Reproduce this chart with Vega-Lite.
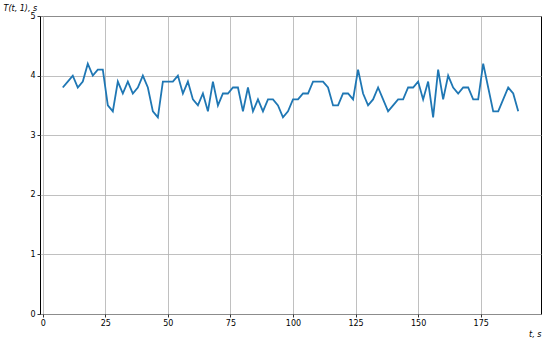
{
  "$schema": "https://vega.github.io/schema/vega-lite/v6.json",
  "width": 501,
  "height": 298,
  "autosize": {"type": "none"},
  "padding": {"left": 40, "top": 16, "right": 9, "bottom": 28},
  "background": "white",
  "config": {"view": {"stroke": "#000", "strokeWidth": 1}, "font": "DejaVu Sans"},
  "data": {"values": [
    {"t": 8, "T": 3.8}, {"t": 10, "T": 3.9}, {"t": 12, "T": 4.0}, {"t": 14, "T": 3.8}, {"t": 16, "T": 3.9},
    {"t": 18, "T": 4.2}, {"t": 20, "T": 4.0}, {"t": 22, "T": 4.1}, {"t": 24, "T": 4.1}, {"t": 26, "T": 3.5},
    {"t": 28, "T": 3.4}, {"t": 30, "T": 3.9}, {"t": 32, "T": 3.7}, {"t": 34, "T": 3.9}, {"t": 36, "T": 3.7},
    {"t": 38, "T": 3.8}, {"t": 40, "T": 4.0}, {"t": 42, "T": 3.8}, {"t": 44, "T": 3.4}, {"t": 46, "T": 3.3},
    {"t": 48, "T": 3.9}, {"t": 50, "T": 3.9}, {"t": 52, "T": 3.9}, {"t": 54, "T": 4.0}, {"t": 56, "T": 3.7},
    {"t": 58, "T": 3.9}, {"t": 60, "T": 3.6}, {"t": 62, "T": 3.5}, {"t": 64, "T": 3.7}, {"t": 66, "T": 3.4},
    {"t": 68, "T": 3.9}, {"t": 70, "T": 3.5}, {"t": 72, "T": 3.7}, {"t": 74, "T": 3.7}, {"t": 76, "T": 3.8},
    {"t": 78, "T": 3.8}, {"t": 80, "T": 3.4}, {"t": 82, "T": 3.8}, {"t": 84, "T": 3.4}, {"t": 86, "T": 3.6},
    {"t": 88, "T": 3.4}, {"t": 90, "T": 3.6}, {"t": 92, "T": 3.6}, {"t": 94, "T": 3.5}, {"t": 96, "T": 3.3},
    {"t": 98, "T": 3.4}, {"t": 100, "T": 3.6}, {"t": 102, "T": 3.6}, {"t": 104, "T": 3.7}, {"t": 106, "T": 3.7},
    {"t": 108, "T": 3.9}, {"t": 110, "T": 3.9}, {"t": 112, "T": 3.9}, {"t": 114, "T": 3.8}, {"t": 116, "T": 3.5},
    {"t": 118, "T": 3.5}, {"t": 120, "T": 3.7}, {"t": 122, "T": 3.7}, {"t": 124, "T": 3.6}, {"t": 126, "T": 4.1},
    {"t": 128, "T": 3.7}, {"t": 130, "T": 3.5}, {"t": 132, "T": 3.6}, {"t": 134, "T": 3.8}, {"t": 136, "T": 3.6},
    {"t": 138, "T": 3.4}, {"t": 140, "T": 3.5}, {"t": 142, "T": 3.6}, {"t": 144, "T": 3.6}, {"t": 146, "T": 3.8},
    {"t": 148, "T": 3.8}, {"t": 150, "T": 3.9}, {"t": 152, "T": 3.6}, {"t": 154, "T": 3.9}, {"t": 156, "T": 3.3},
    {"t": 158, "T": 4.1}, {"t": 160, "T": 3.6}, {"t": 162, "T": 4.0}, {"t": 164, "T": 3.8}, {"t": 166, "T": 3.7},
    {"t": 168, "T": 3.8}, {"t": 170, "T": 3.8}, {"t": 172, "T": 3.6}, {"t": 174, "T": 3.6}, {"t": 176, "T": 4.2},
    {"t": 178, "T": 3.8}, {"t": 180, "T": 3.4}, {"t": 182, "T": 3.4}, {"t": 184, "T": 3.6}, {"t": 186, "T": 3.8},
    {"t": 188, "T": 3.7}, {"t": 190, "T": 3.4}
  ]},
  "mark": {"type": "line", "color": "#1f77b4", "strokeWidth": 1.8, "clip": true},
  "encoding": {
    "x": {
      "field": "t", "type": "quantitative",
      "scale": {"domain": [-1.1, 199.1], "nice": false, "zero": false},
      "axis": {
        "values": [0, 25, 50, 75, 100, 125, 150, 175],
        "grid": true, "gridColor": "#b0b0b0", "gridWidth": 0.8,
        "domain": false, "tickColor": "#000", "tickSize": 3, "tickWidth": 0.8,
        "labelFontSize": 8, "labelColor": "#000", "labelPadding": 2,
        "title": "t, s", "titleFontStyle": "italic", "titleFontWeight": "normal", "titleFontSize": 8,
        "titleColor": "#000", "titleAlign": "right", "titleX": 501, "titleY": 20, "titleBaseline": "middle"
      }
    },
    "y": {
      "field": "T", "type": "quantitative",
      "scale": {"domain": [0, 5], "nice": false},
      "axis": {
        "values": [0, 1, 2, 3, 4, 5],
        "grid": true, "gridColor": "#b0b0b0", "gridWidth": 0.8,
        "domain": false, "tickColor": "#000", "tickSize": 3, "tickWidth": 0.8,
        "labelFontSize": 8, "labelColor": "#000", "labelPadding": 2,
        "title": "T(t, 1), s", "titleFontStyle": "italic", "titleFontWeight": "normal", "titleFontSize": 8,
        "titleColor": "#000", "titleAngle": 0, "titleAlign": "left", "titleBaseline": "middle",
        "titleX": -37, "titleY": -8
      }
    }
  }
}
